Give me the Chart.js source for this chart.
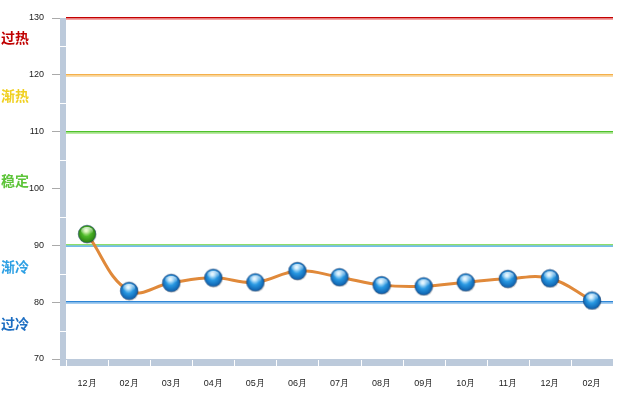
<!DOCTYPE html>
<html>
<head>
<meta charset="utf-8">
<script src="https://cdn.jsdelivr.net/npm/chart.js@4"></script>
<style>
  html, body { margin: 0; padding: 0; background: #fff; }
  #wrap { width: 622px; height: 395px; position: relative; }
</style>
</head>
<body>
<div id="wrap"><canvas id="chart"></canvas></div>
<script>
const months = ['12月', '02月', '03月', '04月', '05月', '06月', '07月', '08月', '09月', '10月', '11月', '12月', '02月'];
const values = [92, 82, 83.4, 84.3, 83.5, 85.5, 84.4, 83, 82.8, 83.5, 84.1, 84.2, 80.3];
const yTicks = [70, 80, 90, 100, 110, 120, 130];

// zone lines and zone labels on the left
const zoneLines = [130, 120, 110, 90, 80];
const zoneNames = ['过热', '渐热', '稳定', '渐冷', '过冷'];
const zoneNameAt = [126.5, 116.3, 101.3, 86.2, 76.3];

const lineColors = {
    130: ['#c40000', '#f08080'],
    120: ['#f5b04a', '#f8cf8a'],
    110: ['#4fc22a', '#9ee27e'],
    90: ['#8ede6a', '#3aa2e2'],
    80: ['#2f86d6', '#7fb8ea']
};
const nameColors = ['#c00000', '#f0d020', '#5cc438', '#2ea0e4', '#1d6ec2'];

function ball(c1, c2, c3) {
    const s = 20;
    const cv = document.createElement('canvas');
    cv.width = s; cv.height = s;
    const g = cv.getContext('2d');
    // shadow
    g.beginPath();
    g.arc(s / 2 + 0.6, s / 2 + 0.8, s / 2 - 1, 0, Math.PI * 2);
    g.fillStyle = 'rgba(0,0,0,0.18)';
    g.fill();
    const grad = g.createRadialGradient(s / 2 - 1, s / 2 - 3.5, 1, s / 2, s / 2, s / 2 - 1);
    grad.addColorStop(0, c1);
    grad.addColorStop(0.45, c2);
    grad.addColorStop(1, c3);
    g.beginPath();
    g.arc(s / 2, s / 2, s / 2 - 1.2, 0, Math.PI * 2);
    g.fillStyle = grad;
    g.fill();
    g.lineWidth = 0.8;
    g.strokeStyle = 'rgba(20,60,110,0.6)';
    g.stroke();
    // glossy highlight
    const hl = g.createLinearGradient(0, 2, 0, s / 2);
    hl.addColorStop(0, 'rgba(255,255,255,0.9)');
    hl.addColorStop(1, 'rgba(255,255,255,0)');
    g.beginPath();
    g.ellipse(s / 2, s / 2 - 3, 6, 4, 0, 0, Math.PI * 2);
    g.fillStyle = hl;
    g.fill();
    return cv;
}

const blueBall = ball('#d2f0ff', '#2898e2', '#0c5ca8');
const greenBall = ball('#d8f7b0', '#4cb828', '#2a7d12');

const decor = {
    id: 'decor',
    beforeDatasetsDraw(chart) {
        const { ctx, chartArea, scales } = chart;
        const y = scales.y;
        ctx.save();
        zoneLines.forEach(v => {
            const py = Math.round(y.getPixelForValue(v));
            const c = lineColors[v];
            ctx.fillStyle = c[0];
            ctx.fillRect(chartArea.left, py - 1, chartArea.right - chartArea.left, 1.5);
            ctx.fillStyle = c[1];
            ctx.fillRect(chartArea.left, py + 0.5, chartArea.right - chartArea.left, 1.2);
        });
        ctx.restore();
    },
    afterDraw(chart) {
        const { ctx, chartArea, scales } = chart;
        const x = scales.x, y = scales.y;
        const band = '#bccadb';
        ctx.save();
        // vertical band
        ctx.fillStyle = band;
        ctx.fillRect(chartArea.left - 6, chartArea.top, 6, chartArea.bottom - chartArea.top + 7);
        // horizontal band
        ctx.fillRect(chartArea.left, chartArea.bottom, chartArea.right - chartArea.left, 7);
        ctx.fillStyle = '#ffffff';
        for (let v = 75; v < 130; v += 10) {
            const py = Math.round(y.getPixelForValue(v));
            ctx.fillRect(chartArea.left - 6, py, 6, 1);
        }
        const step = (chartArea.right - chartArea.left) / months.length;
        for (let i = 0; i < months.length; i++) {
            const px = Math.round(x.getPixelForValue(i) - step / 2);
            ctx.fillRect(px, chartArea.bottom + 1, 1, 6);
        }
        // zone names
        ctx.font = 'bold 14px "Noto Sans CJK SC"';
        ctx.textBaseline = 'middle';
        ctx.textAlign = 'left';
        zoneNames.forEach((n, i) => {
            ctx.fillStyle = nameColors[i];
            ctx.fillText(n, 1, y.getPixelForValue(zoneNameAt[i]));
        });
        ctx.restore();
    }
};

new Chart(document.getElementById('chart'), {
    type: 'line',
    data: {
        labels: months,
        datasets: [{
            data: values,
            borderColor: '#e0893a',
            borderWidth: 3,
            tension: 0.4,
            pointStyle: values.map((v, i) => i === 0 ? greenBall : blueBall),
            pointRadius: 9,
            pointHoverRadius: 9,
            fill: false
        }]
    },
    options: {
        responsive: true,
        maintainAspectRatio: false,
        animation: false,
        layout: { autoPadding: false, padding: { top: 18, right: 9, left: 0, bottom: 0 } },
        plugins: { legend: { display: false }, tooltip: { enabled: false } },
        scales: {
            x: {
                offset: true,
                grid: { drawOnChartArea: false, tickLength: 17, color: 'rgba(0,0,0,0)' },
                border: { display: false },
                ticks: { color: '#222', font: { size: 9, family: 'Liberation Sans' }, padding: 2, maxRotation: 0, autoSkip: false },
                afterFit: s => { s.height = 36; s.paddingRight = 0; s.paddingLeft = 0; }
            },
            y: {
                min: 70,
                max: 130,
                afterBuildTicks: s => { s.ticks = yTicks.map(v => ({ value: v })); },
                grid: { drawOnChartArea: false, tickLength: 14, color: '#aaa' },
                border: { display: false },
                ticks: { color: '#222', font: { size: 9, family: 'Liberation Sans' }, padding: 8 },
                afterFit: s => { s.width = 66; s.paddingTop = 0; s.paddingBottom = 0; }
            }
        }
    },
    plugins: [decor]
});
</script>
</body>
</html>
